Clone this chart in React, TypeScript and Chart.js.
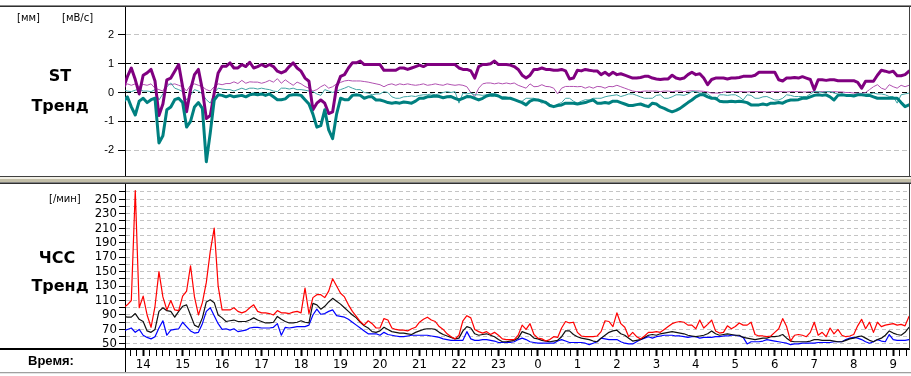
import React, { useEffect, useRef } from 'react';
import { Chart, registerables } from 'chart.js';

Chart.register(...registerables);

// time grid: first sample at 13.5 h, one sample every 0.1 h (6 min); hours past 24 continue (24 = 0:00)
const startHour = 13.5;
const stepHour = 0.1;
const xMin = 13.54;
const xMax = 33.4;

const hourLabels = ['14', '15', '16', '17', '18', '19', '20', '21', '22', '23', '0', '1', '2', '3', '4', '5', '6', '7', '8', '9'];
const stTicks = [-2, -1, 0, 1, 2];
const hrTicks = [50, 60, 70, 80, 90, 100, 110, 120, 130, 140, 150, 160, 170, 180, 190, 200, 210, 220, 230, 240, 250, 260];

// ST trend, mm (thick purple)
const stPurpleThick = [
  0.15, 0.55, 0.85, 0.45, -0.05,
  0.6, 0.68, 0.8, 0.4, -0.8, -0.4, 0.44, 0.5, 0.74, 0.97,
  0.2, -0.67, 0.1, 0.62, 0.8, 0.1, -0.9, -0.8, -0.02, 0.68,
  0.91, 0.91, 1.03, 0.85, 0.85, 0.97, 0.9, 1.05, 0.85, 0.9,
  0.97, 0.9, 0.97, 0.9, 0.74, 0.68, 0.74, 0.9, 1.03, 0.85,
  0.74, 0.5, 0.39, -0.6, -0.37, -0.26, -0.37, -0.73, -0.67, 0.2,
  0.56, 0.62, 0.85, 1.03, 1.03, 1.09, 0.97, 0.97, 0.97, 0.97,
  0.97, 0.77, 0.77, 0.77, 0.77, 0.85, 0.85, 0.8, 0.85, 0.9,
  0.95, 0.9, 0.97, 0.97, 0.97, 0.97, 0.97, 0.97, 0.97, 0.97,
  0.85, 0.8, 0.8, 0.75, 0.5, 0.9, 0.97, 0.97, 1.0, 1.09,
  0.97, 0.97, 0.97, 0.95, 0.9, 0.8, 0.6, 0.5, 0.6, 0.8,
  0.8, 0.85, 0.8, 0.8, 0.77, 0.77, 0.8, 0.75, 0.47, 0.5,
  0.77, 0.75, 0.8, 0.77, 0.75, 0.75, 0.62, 0.7, 0.6, 0.7,
  0.62, 0.65, 0.6, 0.55, 0.5, 0.5, 0.52, 0.56, 0.56, 0.5,
  0.47, 0.45, 0.47, 0.47, 0.6, 0.5, 0.47, 0.5, 0.62, 0.7,
  0.62, 0.65, 0.5, 0.27, 0.45, 0.5, 0.5, 0.5, 0.47, 0.5,
  0.5, 0.52, 0.56, 0.56, 0.56, 0.6, 0.7, 0.7, 0.7, 0.7,
  0.7, 0.44, 0.4, 0.5, 0.5, 0.52, 0.5, 0.55, 0.5, 0.45,
  0.1, 0.44, 0.44, 0.42, 0.44, 0.44, 0.41, 0.41, 0.41, 0.41,
  0.41, 0.35, 0.15, 0.39, 0.39, 0.39, 0.6, 0.77, 0.74, 0.7,
  0.74, 0.58, 0.58, 0.62, 0.74,
];

// ST trend, mV/s (thin purple)
const stPurpleThin = [
  0.15, 0.3, 0.25, 0.3, 0.2,
  0.28, 0.25, 0.3, 0.15, 0.1, 0.05, 0.3, 0.27, 0.3, 0.25,
  0.2, 0.05, 0.25, 0.3, 0.25, 0.2, 0.1, 0.05, 0.2, 0.3,
  0.27, 0.31, 0.31, 0.37, 0.31, 0.42, 0.32, 0.37, 0.36, 0.36,
  0.32, 0.36, 0.42, 0.36, 0.48, 0.32, 0.44, 0.34, 0.25, 0.36,
  0.3, 0.21, 0.15, 0.05, 0.1, 0.2, 0.27, 0.15, 0.2, 0.3,
  0.35, 0.4, 0.42, 0.4, 0.4, 0.4, 0.38, 0.36, 0.33, 0.3,
  0.27, 0.2, 0.27, 0.3, 0.25, 0.3, 0.27, 0.3, 0.27, 0.25,
  0.27, 0.3, 0.25, 0.27, 0.3, 0.27, 0.25, 0.3, 0.27, 0.25,
  0.27, 0.25, 0.2, 0.0, -0.14, 0.15, 0.3, 0.33, 0.33, 0.3,
  0.33, 0.3, 0.33, 0.3, 0.33, 0.25, 0.2, 0.15, 0.3, 0.2,
  0.21, 0.27, 0.21, 0.2, 0.15, -0.05, 0.15, 0.21, 0.21, 0.21,
  0.2, 0.21, 0.15, 0.2, 0.15, 0.21, 0.2, 0.15, 0.21, 0.2,
  0.25, 0.2, 0.15, 0.1, 0.05, 0.03, 0.03, 0.05, 0.05, 0.05,
  0.05, 0.03, 0.05, 0.05, 0.03, 0.05, 0.05, 0.03, 0.05, 0.06,
  0.05, 0.05, 0.04, 0.02, -0.02, -0.02, -0.02, 0.02, 0.03, 0.03,
  0.03, 0.03, 0.03, 0.02, 0.03, 0.03, 0.03, 0.03, 0.02, 0.03,
  0.03, 0.03, 0.03, 0.02, 0.03, 0.03, 0.03, 0.02, 0.02, 0.03,
  0.03, 0.02, 0.03, 0.03, 0.02, 0.03, 0.02, 0.02, 0.0, 0.0,
  -0.02, -0.02, -0.03, 0.0, 0.1, 0.2, 0.27, 0.15, 0.1, 0.27,
  0.2, 0.15, 0.25, 0.2, 0.25,
];

// ST trend, mm (thick teal)
const stTealThick = [
  -0.32, -0.15, -0.5, -0.78, -0.3,
  -0.2, -0.35, -0.25, -0.2, -1.75, -1.5, -0.6, -0.5, -0.25, -0.2,
  -0.35, -1.2, -1.0, -0.5, -0.35, -0.55, -2.4, -1.4, -0.26, -0.08,
  -0.1, -0.15, -0.1, -0.15, -0.12, -0.1, -0.15, -0.08, -0.05, -0.08,
  -0.05, -0.1, -0.05, -0.15, -0.25, -0.25, -0.22, -0.1, -0.08, -0.08,
  -0.1, -0.25, -0.4, -0.75, -1.2, -1.15, -0.6, -1.3, -1.6, -0.75,
  -0.2, -0.25, -0.25, -0.1, -0.08, -0.1, -0.2, -0.15, -0.15, -0.26,
  -0.26, -0.3, -0.35, -0.37, -0.35, -0.37, -0.33, -0.35, -0.37, -0.3,
  -0.2, -0.2, -0.15, -0.14, -0.12, -0.14, -0.18, -0.15, -0.14, -0.2,
  -0.26, -0.2, -0.14, -0.15, -0.2, -0.26, -0.2, -0.12, -0.08, -0.08,
  -0.12, -0.2, -0.2, -0.2, -0.25, -0.3, -0.35, -0.43, -0.3, -0.25,
  -0.26, -0.3, -0.35, -0.45, -0.49, -0.45, -0.43, -0.37, -0.37, -0.37,
  -0.4, -0.37, -0.35, -0.3, -0.26, -0.37, -0.37, -0.35, -0.37, -0.3,
  -0.3, -0.35, -0.4, -0.45, -0.45, -0.42, -0.4, -0.45, -0.49, -0.37,
  -0.4, -0.5, -0.55, -0.62, -0.67, -0.62, -0.55, -0.45, -0.35, -0.26,
  -0.15, -0.08, -0.08, -0.15, -0.2, -0.2, -0.3, -0.32, -0.32, -0.3,
  -0.32, -0.3, -0.32, -0.35, -0.43, -0.43, -0.43, -0.4, -0.43, -0.37,
  -0.37, -0.35, -0.37, -0.3, -0.26, -0.26, -0.25, -0.2, -0.2, -0.15,
  -0.1, -0.08, -0.1, -0.08, -0.15, -0.26, -0.1, -0.08, -0.1, -0.1,
  -0.12, -0.08, -0.08, -0.1, -0.1, -0.15, -0.2, -0.2, -0.2, -0.2,
  -0.2, -0.2, -0.35, -0.49, -0.43,
];

// ST trend, mV/s (thin teal)
const stTealThin = [
  0.1, 0.05, 0.03, 0.08, 0.12,
  0.05, 0.05, 0.03, 0.1, -0.26, -0.05, 0.2, 0.33, 0.15, 0.1,
  0.03, -0.26, -0.1, 0.1, 0.05, -0.05, -0.25, -0.37, -0.02, 0.15,
  0.12, 0.1, 0.1, 0.05, 0.1, 0.15, 0.1, 0.15, 0.15, 0.12,
  0.15, 0.12, 0.1, 0.05, 0.03, 0.15, 0.15, 0.12, 0.15, 0.1,
  0.1, 0.08, 0.05, 0.03, -0.05, -0.1, 0.1, 0.05, 0.0, 0.05,
  0.1, 0.15, 0.21, 0.15, 0.1, 0.1, 0.0, -0.02, -0.08, -0.05,
  -0.05, 0.03, 0.0, -0.15, -0.2, -0.2, -0.15, -0.14, -0.12, -0.14,
  -0.1, -0.08, -0.08, -0.05, -0.08, -0.05, 0.0, 0.03, 0.0, 0.03,
  -0.37, -0.02, -0.05, -0.02, -0.08, -0.08, -0.1, -0.08, -0.14, -0.14,
  -0.12, -0.14, -0.15, -0.2, -0.25, -0.32, -0.3, -0.2, -0.2, -0.2,
  -0.26, -0.37, -0.3, -0.4, -0.49, -0.4, -0.35, -0.2, -0.2, -0.3,
  -0.37, -0.3, -0.25, -0.26, -0.2, -0.2, -0.2, -0.15, -0.12, -0.1,
  -0.08, -0.14, -0.1, -0.05, -0.05, -0.1, -0.15, -0.2, -0.2, -0.2,
  -0.1, -0.08, -0.2, -0.2, -0.15, -0.08, -0.08, -0.1, -0.05, 0.03,
  0.03, -0.02, -0.02, -0.05, -0.15, -0.26, -0.08, -0.08, -0.1, -0.08,
  -0.08, -0.15, -0.26, -0.08, -0.1, -0.2, -0.2, -0.15, -0.14, -0.2,
  -0.26, -0.26, -0.2, -0.08, -0.1, -0.14, -0.14, -0.14, -0.14, -0.05,
  0.03, 0.03, 0.0, 0.03, 0.03, -0.02, -0.05, -0.08, -0.08, -0.08,
  -0.08, -0.08, -0.08, -0.05, -0.05, -0.02, -0.05, -0.05, -0.08, -0.14,
  -0.14, -0.37, -0.08, -0.05, -0.02,
];

// heart rate, /min (red)
const hrRed = [
  100, 104, 110, 262, 100,
  116, 90, 73, 102, 150, 115, 97, 110, 97, 96,
  116, 123, 158, 115, 90, 107, 135, 178, 210, 130,
  97, 97, 97, 100, 95, 93, 95, 100, 104, 95,
  93, 93, 92, 90, 96, 93, 93, 92, 94, 95,
  93, 127, 92, 114, 118, 118, 114, 123, 140, 130,
  120, 115, 104, 95, 88, 81, 76, 82, 78, 72,
  72, 85, 83, 72, 70, 69, 69, 68, 71, 73,
  80, 84, 87, 83, 81, 74, 70, 64, 60, 57,
  62, 82, 89, 86, 70, 67, 65, 67, 63, 66,
  62, 57, 56, 56, 56, 62, 76, 70, 78, 63,
  58, 57, 54, 56, 60, 59, 72, 81, 79, 80,
  66, 61, 60, 60, 60, 61, 67, 82, 81, 74,
  93, 78, 73, 60, 66, 60, 57, 61, 66, 66,
  67, 66, 70, 74, 78, 80, 81, 80, 76, 76,
  71, 83, 72, 77, 83, 68, 65, 66, 75, 71,
  74, 79, 76, 76, 80, 63, 61, 61, 60, 61,
  66, 71, 85, 74, 54, 62, 63, 62, 60, 66,
  80, 62, 66, 60, 72, 64, 70, 62, 60, 61,
  63, 75, 84, 71, 80, 66, 80, 74, 76, 77,
  78, 76, 77, 75, 88,
];

// heart rate, /min (black)
const hrBlack = [
  88, 87, 87, 92, 84,
  81, 68, 66, 70, 95, 100, 96, 95, 87, 95,
  102, 104, 90, 76, 73, 86, 108, 111, 107, 90,
  86, 81, 82, 83, 81, 81, 81, 83, 86, 83,
  81, 79, 79, 80, 88, 84, 81, 79, 79, 80,
  82, 80, 79, 106, 104, 98, 102, 108, 113, 109,
  105, 100, 95, 90, 86, 80, 75, 72, 67, 66,
  68, 73, 70, 67, 66, 65, 65, 64, 63, 66,
  68, 70, 71, 71, 70, 66, 63, 61, 59, 57,
  58, 68, 74, 72, 64, 62, 63, 64, 62, 60,
  56, 53, 53, 54, 55, 58, 67, 65, 63, 58,
  57, 55, 54, 53, 54, 55, 60, 68, 68, 63,
  60, 58, 57, 56, 54, 53, 58, 62, 66, 68,
  69, 64, 62, 58, 54, 55, 56, 59, 62, 63,
  62, 64, 65, 66, 67, 66, 65, 64, 62, 61,
  60, 61, 62, 64, 68, 64, 62, 63, 64, 63,
  62, 62, 59, 58, 57, 56, 57, 58, 58, 60,
  60, 61, 63, 58, 54, 53, 53, 53, 53, 54,
  56, 56, 55, 55, 55, 54, 53, 53, 55, 57,
  58, 60, 61, 58, 55, 53, 56, 58, 62, 68,
  65, 63, 62, 66, 73,
];

// heart rate, /min (blue)
const hrBlue = [
  68, 70, 72, 66, 70,
  62, 59, 57, 60, 72, 82, 62, 69, 70, 71,
  80, 74, 68, 65, 66, 78, 95, 100, 89, 78,
  70, 71, 69, 71, 67, 68, 69, 72, 73, 73,
  72, 72, 72, 73, 78, 62, 73, 72, 73, 74,
  74, 74, 76, 90, 98, 91, 92, 95, 97, 89,
  88, 87, 84, 80, 76, 72, 68, 64, 64, 64,
  62, 66, 63, 62, 61, 60, 60, 61, 62, 62,
  62, 62, 62, 61, 60, 59, 57, 56, 55, 55,
  55, 55, 67, 57, 55, 55, 56, 56, 55, 54,
  52, 52, 52, 52, 53, 56, 58, 56, 53, 52,
  51, 51, 51, 51, 51, 54, 56, 54, 52, 52,
  52, 52, 51, 49, 51, 53, 58, 57, 56, 56,
  56, 53, 51, 50, 50, 53, 56, 58, 60, 58,
  60, 61, 62, 62, 62, 61, 61, 60, 59, 60,
  60, 58, 59, 59, 59, 60, 60, 61, 61, 62,
  62, 61, 59, 50, 53, 53, 53, 54, 56, 55,
  54, 53, 52, 51, 49, 50, 50, 51, 51, 51,
  51, 52, 52, 52, 52, 53, 53, 53, 56, 58,
  59, 58, 56, 53, 51, 53, 56, 54, 53, 63,
  56, 55, 55, 55, 56,
];

const toPoints = (values: number[]) =>
  values.map((v, i) => ({ x: Math.round((startHour + i * stepHour) * 100) / 100, y: v }));

const tickFont = { family: 'Arial, "Liberation Sans", sans-serif', size: 11 };
const narrowFont = { family: '"Liberation Sans Narrow", "Arial Narrow", "DejaVu Sans Condensed", Arial, sans-serif', size: 13 };

const baseOptions = {
  animation: false as const,
  responsive: false,
  devicePixelRatio: 1,
  events: [] as any[],
  elements: { point: { radius: 0 }, line: { tension: 0, borderJoinStyle: 'round' as const, borderCapStyle: 'round' as const } },
  plugins: { legend: { display: false }, tooltip: { enabled: false } },
};

const fixYAxis = (a: any) => {
  a.width = 125;
  a.paddingTop = 0;
  a.paddingBottom = 0;
};

function StChart() {
  const ref = useRef<HTMLCanvasElement | null>(null);
  useEffect(() => {
    if (!ref.current) return;
    const chart = new Chart(ref.current, {
      type: 'line',
      data: {
        datasets: [
          { data: toPoints(stTealThick), borderColor: '#008080', borderWidth: 3 },
          { data: toPoints(stPurpleThick), borderColor: '#800080', borderWidth: 3 },
          { data: toPoints(stTealThin), borderColor: '#40a4a4', borderWidth: 1 },
          { data: toPoints(stPurpleThin), borderColor: '#b050b0', borderWidth: 1 },
        ],
      },
      options: {
        ...baseOptions,
        layout: { padding: { left: 0, right: 2, top: 6, bottom: 1 } },
        scales: {
          x: { type: 'linear', min: xMin, max: xMax, display: false },
          y: {
            min: -3,
            max: 3,
            afterFit: fixYAxis,
            afterBuildTicks: (a: any) => { a.ticks = stTicks.map((v) => ({ value: v })); },
            ticks: { autoSkip: false, color: '#000', font: tickFont, padding: 4, callback: (v: any) => String(v) },
            grid: {
              color: (c: any) => (Math.abs(c.tick?.value) === 2 ? '#c4c4c4' : '#000'),
              tickColor: '#000',
              tickLength: 7,
              tickBorderDash: [],
              lineWidth: 1,
            },
            border: { display: true, color: '#000', width: 1, dash: [5, 3] },
          },
        },
      } as any,
    });
    return () => chart.destroy();
  }, []);
  return <canvas ref={ref} width={911} height={180} style={{ position: 'absolute', left: 0, top: 0 }} />;
}

function HrChart() {
  const ref = useRef<HTMLCanvasElement | null>(null);
  useEffect(() => {
    if (!ref.current) return;
    const isHour = (v: number) => Math.abs(v - Math.round(v)) < 1e-6;
    const chart = new Chart(ref.current, {
      type: 'line',
      data: {
        datasets: [
          { data: toPoints(hrRed), borderColor: '#ff0000', borderWidth: 1.2 },
          { data: toPoints(hrBlack), borderColor: '#101010', borderWidth: 1.2 },
          { data: toPoints(hrBlue), borderColor: '#0000ff', borderWidth: 1.2 },
        ],
      },
      options: {
        ...baseOptions,
        layout: { padding: { left: 0, right: 2, top: 0, bottom: 0 } },
        scales: {
          x: {
            type: 'linear',
            min: xMin,
            max: xMax,
            afterFit: (a: any) => {
              a.height = 27;
              a.paddingLeft = 0;
              a.paddingRight = 0;
            },
            afterBuildTicks: (a: any) => {
              const ticks = [];
              for (let k = Math.ceil(xMin * 6); k <= Math.floor(xMax * 6); k++) ticks.push({ value: k / 6 });
              a.ticks = ticks;
            },
            ticks: {
              autoSkip: false,
              maxRotation: 0,
              minRotation: 0,
              padding: 1,
              color: '#000',
              font: narrowFont,
              callback: (v: any) => (isHour(v) ? hourLabels[Math.round(v) - 14] ?? '' : ''),
            },
            grid: {
              drawOnChartArea: false,
              drawTicks: true,
              tickLength: 7,
              tickColor: '#000',
              tickWidth: (c: any) => (c.tick && isHour(c.tick.value) ? 2 : 1),
            },
            border: { display: true, color: '#000', width: 2 },
          },
          y: {
            min: 43,
            max: 271,
            afterFit: fixYAxis,
            afterBuildTicks: (a: any) => { a.ticks = hrTicks.map((v) => ({ value: v })); },
            ticks: {
              autoSkip: false,
              color: '#000',
              font: narrowFont,
              padding: 2,
              callback: (v: any) => ((v - 50) % 20 === 0 && v <= 250 ? String(v) : ''),
            },
            grid: { color: '#c4c4c4', tickColor: '#000', tickLength: 6, tickBorderDash: [], lineWidth: 1 },
            border: { display: true, color: '#000', width: 1, dash: [4, 3] },
          },
        },
      } as any,
    });
    return () => chart.destroy();
  }, []);
  return <canvas ref={ref} width={911} height={192} style={{ position: 'absolute', left: 0, top: 184 }} />;
}

const abs = (s: React.CSSProperties): React.CSSProperties => ({ position: 'absolute', ...s });
const hline = (top: number, color: string, left = 0, width = 911, height = 1) => (
  <div style={abs({ top, left, width, height, background: color })} />
);

export default function App() {
  const bold: React.CSSProperties = { fontFamily: '"DejaVu Sans", Arial, sans-serif', fontWeight: 'bold', fontSize: 16, lineHeight: '18px', color: '#000', whiteSpace: 'nowrap', textAlign: 'center' };
  const small: React.CSSProperties = { fontFamily: '"DejaVu Sans", Arial, sans-serif', fontSize: 10, lineHeight: '14px', color: '#000', whiteSpace: 'nowrap' };
  return (
    <div style={abs({ left: 0, top: 0, width: 911, height: 376, background: '#fff', overflow: 'hidden' })}>
      <StChart />
      <HrChart />
      {/* frame lines */}
      {hline(5, '#8c8c8c')}
      {hline(6, '#303030')}
      {hline(176, '#404040')}
      {hline(177, '#f2f0e6', 0, 911, 2)}
      {hline(179, '#c2bea8', 0, 911, 3)}
      {hline(182, '#808080')}
      {hline(183, '#303030')}
      {hline(348, '#000', 0, 126, 2)}
      {hline(372, '#a0a0a0')}
      {hline(373, '#e4e4e4')}
      <div style={abs({ left: 125, top: 349, width: 1, height: 23, background: '#000' })} />
      <div style={abs({ left: 909, top: 6, width: 1, height: 171, background: '#404040' })} />
      <div style={abs({ left: 909, top: 184, width: 1, height: 165, background: '#404040' })} />
      {/* texts */}
      <div style={abs({ ...small, left: 17, top: 11 })}>[мм]</div>
      <div style={abs({ ...small, left: 62, top: 11 })}>[мВ/с]</div>
      <div style={abs({ ...bold, left: 10, width: 100, top: 67 })}>ST</div>
      <div style={abs({ ...bold, left: 10, width: 100, top: 97 })}>Тренд</div>
      <div style={abs({ ...small, left: 49, top: 192 })}>[/мин]</div>
      <div style={abs({ ...bold, left: 7, width: 100, top: 249 })}>ЧСС</div>
      <div style={abs({ ...bold, left: 10, width: 100, top: 277 })}>Тренд</div>
      <div style={abs({ ...bold, fontFamily: 'Arial, "Liberation Sans", sans-serif', fontSize: 13, lineHeight: '14px', textAlign: 'left', left: 28, top: 354 })}>Время:</div>
    </div>
  );
}
